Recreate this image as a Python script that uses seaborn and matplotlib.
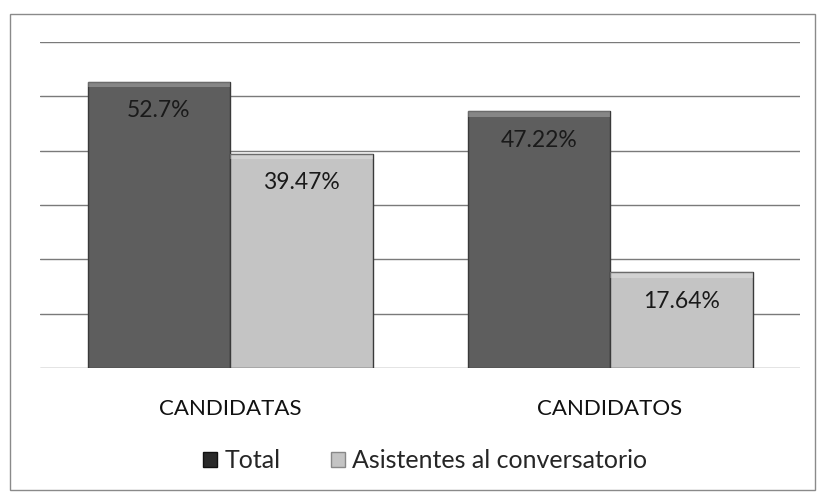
import pandas as pd
import matplotlib
matplotlib.use("Agg")
import matplotlib.pyplot as plt
import seaborn as sns
from matplotlib.patches import Rectangle, Patch

categories = ["CANDIDATAS", "CANDIDATOS"]
series = ["Total", "Asistentes al conversatorio"]
total_values = [52.7, 47.22]
asistentes_values = [39.47, 17.64]
labels_total = ["52.7%", "47.22%"]
labels_asistentes = ["39.47%", "17.64%"]

df = pd.DataFrame({
    "Grupo": categories * 2,
    "Serie": [series[0]] * 2 + [series[1]] * 2,
    "Valor": total_values + asistentes_values,
})

sns.set_style("white")
plt.rcParams["font.family"] = ["Lato", "DejaVu Sans"]

fig = plt.figure(figsize=(8.18, 4.95), dpi=100)
ax = fig.add_axes([40 / 818, 1 - 368 / 495, 760 / 818, 326 / 495])

sns.barplot(
    data=df, x="Grupo", y="Valor", hue="Serie",
    palette=["#5e5e5e", "#c4c4c4"], width=0.75, gap=0,
    edgecolor="#3a3a3a", linewidth=1.0, ax=ax, legend=False,
    errorbar=None,
)

ax.set_ylim(0, 60)
ax.set_xlim(-0.5, 1.5)
ax.set_yticks(range(0, 61, 10))
ax.set_yticklabels([])
ax.yaxis.grid(True, color="#7a7a7a", linewidth=1.0)
ax.set_axisbelow(True)
for s in ax.spines.values():
    s.set_visible(False)
ax.tick_params(axis="x", length=0, pad=22, labelsize=16, labelcolor="#111111")
ax.tick_params(axis="y", length=0)
ax.set_xlabel("")
ax.set_ylabel("")

# light bevel strip along the top of each bar
for container in ax.containers:
    for bar in container:
        ax.add_patch(Rectangle((bar.get_x(), bar.get_height() - 1.0), bar.get_width(), 1.0,
                               facecolor="white", alpha=0.25, edgecolor="none", zorder=bar.get_zorder() + 0.1))

all_labels = [labels_total, labels_asistentes]
for container, labs in zip(ax.containers, all_labels):
    for bar, lab in zip(container, labs):
        ax.annotate(
            lab,
            (bar.get_x() + bar.get_width() / 2, bar.get_height()),
            xytext=(0, -29), textcoords="offset pixels",
            ha="center", va="center", fontsize=16.5, color="#1a1a1a",
        )

# outer chart frame
fig.patches.append(Rectangle((10 / 818, 0.01), 805 / 818, 1 - 14 / 495 - 0.01,
                             transform=fig.transFigure, fill=False,
                             edgecolor="#8a8a8a", linewidth=1.0))

handles = [Patch(facecolor="#2a2a2a", edgecolor="#111111"),
           Patch(facecolor="#c4c4c4", edgecolor="#888888")]
fig.legend(handles, series, loc="center", bbox_to_anchor=(0.52, 1 - 461 / 495),
           ncol=2, frameon=False, fontsize=18, handlelength=0.55,
           handleheight=0.55, handletextpad=0.3, columnspacing=2.0)

fig.savefig("out.png", dpi=100, facecolor="white")
